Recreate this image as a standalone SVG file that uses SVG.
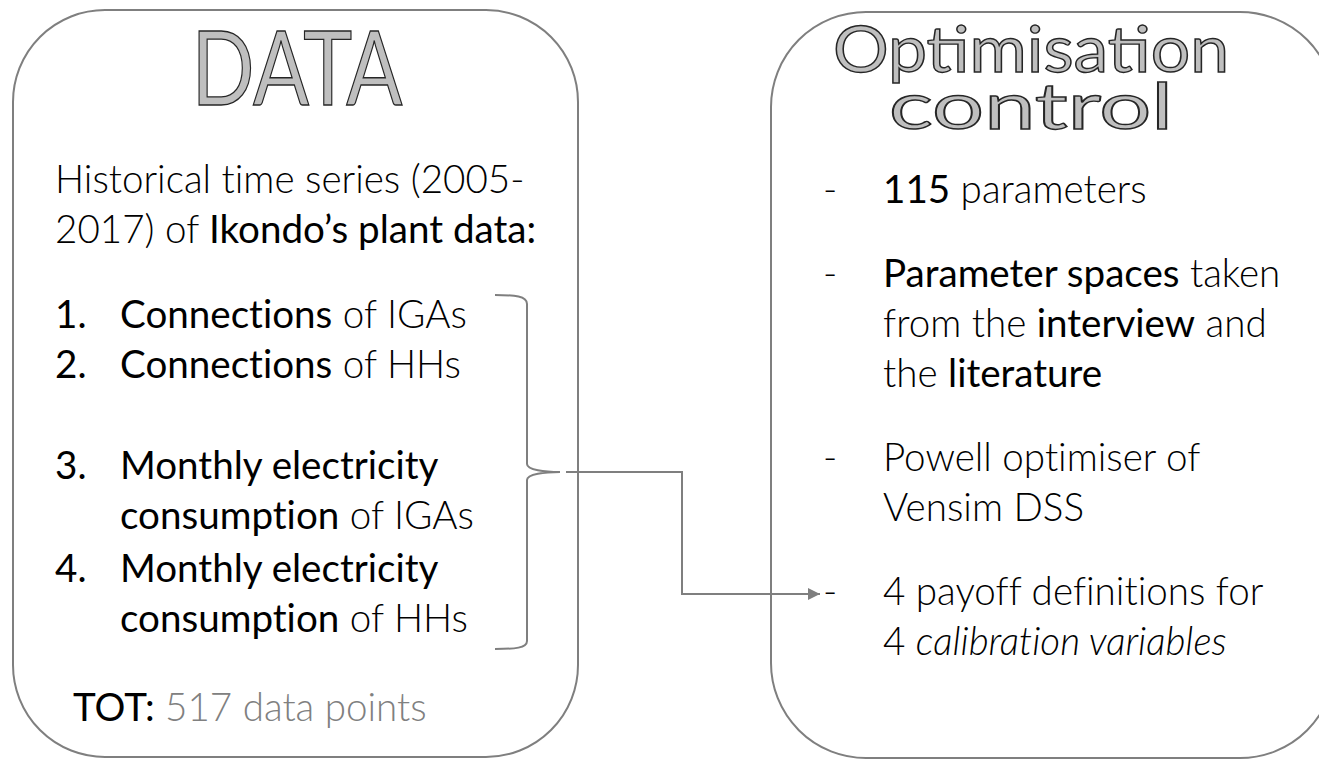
<svg xmlns="http://www.w3.org/2000/svg" width="1319" height="760" viewBox="0 0 1319 760">
  <defs>
    <style>
      .panel { fill: #FFFFFF; stroke: #7F7F7F; stroke-width: 2; }
      .title { font-family: Lato, "Open Sans", "DejaVu Sans", sans-serif; font-weight: 400; fill: #BFBFBF; stroke: #262626; stroke-width: 1.4; }
      .body { font-family: Lato, "Open Sans", "DejaVu Sans", sans-serif; font-weight: 300; font-size: 38.6px; fill: #000000; font-variant-ligatures: none; font-feature-settings: "liga" 0; }
      .em { font-weight: 400; }
      .muted { fill: #808080; }
      .link { fill: none; stroke: #7F7F7F; stroke-width: 2; }
    </style>
    <marker id="arrow" viewBox="0 0 10 10" refX="10" refY="5" markerWidth="7.5" markerHeight="6" markerUnits="strokeWidth" orient="auto">
      <path d="M0,0 L10,5 L0,10 z" fill="#7F7F7F"/>
    </marker>
  </defs>

  <!-- DATA panel -->
  <g id="data">
    <rect class="panel" x="13" y="10" width="565" height="747" rx="92" ry="92"/>
    <text class="title" x="297" y="105" font-size="102" text-anchor="middle" textLength="211" lengthAdjust="spacingAndGlyphs">DATA</text>
    <text class="body" x="55" y="193">Historical time series (2005-</text>
    <text class="body" x="55" y="243">2017) of <tspan class="em">Ikondo’s plant data:</tspan></text>
    <text class="body" x="55" y="328"><tspan class="em">1.</tspan></text>
    <text class="body" x="120" y="328"><tspan class="em">Connections</tspan> of IGAs</text>
    <text class="body" x="55" y="378"><tspan class="em">2.</tspan></text>
    <text class="body" x="120" y="378"><tspan class="em">Connections</tspan> of HHs</text>
    <text class="body" x="55" y="479"><tspan class="em">3.</tspan></text>
    <text class="body em" x="120" y="479">Monthly electricity</text>
    <text class="body" x="120" y="529"><tspan class="em">consumption</tspan> of IGAs</text>
    <text class="body" x="55" y="582"><tspan class="em">4.</tspan></text>
    <text class="body em" x="120" y="582">Monthly electricity</text>
    <text class="body" x="120" y="632"><tspan class="em">consumption</tspan> of HHs</text>
    <text class="body" x="73" y="721" font-size="44"><tspan class="em">TOT:</tspan> <tspan class="muted">517 data points</tspan></text>
  </g>

  <!-- Optimisation control panel -->
  <g id="optimisation">
    <rect class="panel" x="771" y="12" width="564" height="746" rx="95" ry="95"/>
    <text class="title" x="1031" y="72" font-size="63" text-anchor="middle" textLength="396" lengthAdjust="spacingAndGlyphs">Optimisation</text>
    <text class="title" x="1031" y="129" font-size="63" text-anchor="middle" textLength="284" lengthAdjust="spacingAndGlyphs">control</text>
    <text class="body" x="823" y="203">-</text>
    <text class="body" x="883" y="203"><tspan class="em">115</tspan> parameters</text>
    <text class="body" x="823" y="287">-</text>
    <text class="body" x="883" y="287"><tspan class="em">Parameter spaces</tspan> taken</text>
    <text class="body" x="883" y="337">from the <tspan class="em">interview</tspan> and</text>
    <text class="body" x="883" y="387">the <tspan class="em">literature</tspan></text>
    <text class="body" x="823" y="471">-</text>
    <text class="body" x="883" y="471">Powell optimiser of</text>
    <text class="body" x="883" y="521">Vensim DSS</text>
    <text class="body" x="823" y="605">-</text>
    <text class="body" x="883" y="605">4 payoff definitions for</text>
    <text class="body" x="883" y="655">4 <tspan font-style="italic">calibration variables</tspan></text>
  </g>

  <!-- brace grouping the four series, and the link to the payoff definitions -->
  <g id="connectors">
    <path class="link" d="M495,295 C515,295 527,296 527,304 L527,464 C527,470 545,472 560,472 C545,472 527,474 527,480 L527,641 C527,648 515,649 495,649"/>
    <path class="link" d="M566,472 H682 V594 H820" marker-end="url(#arrow)"/>
  </g>
</svg>
